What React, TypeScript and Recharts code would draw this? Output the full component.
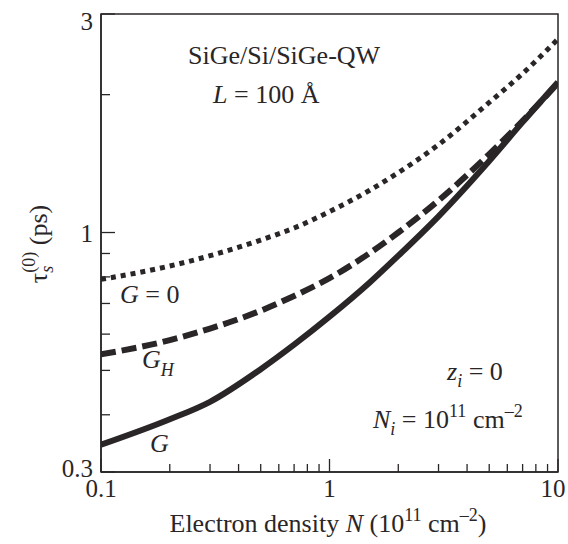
import { LineChart, Line, XAxis, YAxis, ReferenceArea, Customized } from 'recharts';

// electron density N (10^11 cm^-2) and spin relaxation time tau_s^(0) (ps)
const densities = [0.1, 0.2, 0.3, 0.5, 0.7, 1, 1.5, 2, 3, 5, 7, 10];
const tauG0 = [0.79, 0.845, 0.89, 0.963, 1.023, 1.111, 1.237, 1.351, 1.555, 1.923, 2.224, 2.645];
const tauGH = [0.542, 0.582, 0.617, 0.675, 0.727, 0.795, 0.902, 1.0, 1.175, 1.483, 1.754, 2.12];
const tauG = [0.344, 0.391, 0.427, 0.503, 0.569, 0.655, 0.778, 0.89, 1.085, 1.433, 1.742, 2.13];

const xTicks = [0.1, 0.2, 0.3, 0.4, 0.5, 0.6, 0.7, 0.8, 0.9, 1, 2, 3, 4, 5, 6, 7, 8, 9, 10];
const xLabels = [0.1, 1, 10];
const yTicks = [0.3, 0.4, 0.5, 0.6, 0.7, 0.8, 0.9, 1, 2, 3];
const yLabels = [0.3, 1, 3];

const INK = '#2a2627';
const FONT = '"Liberation Serif", "Times New Roman", serif';

const data = densities.map((n, i) => ({ n, g0: tauG0[i], gh: tauGH[i], g: tauG[i] }));

function XTick(props: any) {
  const { x, y, payload } = props;
  const v = payload.value;
  const major = xLabels.includes(v);
  return (
    <g>
      <line x1={x} y1={y} x2={x} y2={y - (major ? 13 : 8)} stroke={INK} strokeWidth={1.3} />
      {major && (
        <text x={v === 10 ? x - 5 : x} y={y + 25} textAnchor="middle" fontFamily={FONT} fontSize={25} fill={INK}>
          {v}
        </text>
      )}
    </g>
  );
}

function YTick(props: any) {
  const { x, y, payload } = props;
  const v = payload.value;
  const major = yLabels.includes(v);
  const shift = v === 3 ? 16 : v === 1 ? 9 : 5;
  return (
    <g>
      <line x1={x} y1={y} x2={x + (major ? 14 : 9)} y2={y} stroke={INK} strokeWidth={1.3} />
      {major && (
        <text x={x - 8} y={y + shift} textAnchor="end" fontFamily={FONT} fontSize={25} fill={INK}>
          {v}
        </text>
      )}
    </g>
  );
}

function Notes() {
  const t = { fontFamily: FONT, fontSize: 26, fill: INK };
  return (
    <g>
      <text x={180} y={56} {...t}>SiGe/Si/SiGe-QW</text>
      <text x={205} y={95} {...t}>
        <tspan fontStyle="italic">L</tspan> = 100 Å
      </text>
      <text x={112} y={295} {...t}>
        <tspan fontStyle="italic">G</tspan> = 0
      </text>
      <text x={134} y={360} {...t}>
        <tspan fontStyle="italic">G</tspan>
        <tspan fontStyle="italic" fontSize={18} dy={8}>H</tspan>
      </text>
      <text x={142} y={444} {...t}>
        <tspan fontStyle="italic">G</tspan>
      </text>
      <text x={439} y={372} {...t}>
        <tspan fontStyle="italic">z</tspan>
        <tspan fontStyle="italic" fontSize={18} dy={7}>i</tspan>
        <tspan dy={-7}> = 0</tspan>
      </text>
      <text x={365} y={420} {...t}>
        <tspan fontStyle="italic">N</tspan>
        <tspan fontStyle="italic" fontSize={18} dy={7}>i</tspan>
        <tspan dy={-7}> = 10</tspan>
        <tspan fontSize={18} dy={-11}>11</tspan>
        <tspan dy={11}> cm</tspan>
        <tspan fontSize={18} dy={-11}>–2</tspan>
      </text>
      <text x={320} y={524} textAnchor="middle" {...t}>
        Electron density <tspan fontStyle="italic">N</tspan> (10
        <tspan fontSize={18} dy={-11}>11</tspan>
        <tspan dy={11}> cm</tspan>
        <tspan fontSize={18} dy={-11}>–2</tspan>
        <tspan dy={11}>)</tspan>
      </text>
      <text x={39} y={236} textAnchor="middle" transform="rotate(-90 39 236)" {...t}>
        τ
        <tspan fontStyle="italic" fontSize={18} dy={6}>s</tspan>
        <tspan fontSize={18} dx={-7} dy={-18}>(0)</tspan>
        <tspan dy={12}> (ps)</tspan>
      </text>
    </g>
  );
}

export default function App() {
  return (
    <div style={{ position: 'absolute', top: 8, left: 8, width: 560, height: 536 }}>
      <LineChart width={560} height={536} data={data} margin={{ top: 6, right: 10, bottom: 0, left: 0 }}>
        <XAxis
          dataKey="n"
          type="number"
          scale="log"
          domain={[0.1, 10]}
          allowDataOverflow
          ticks={xTicks}
          interval={0}
          height={72}
          tickSize={0}
          tickMargin={0}
          tickLine={false}
          tick={<XTick />}
          axisLine={{ stroke: INK, strokeWidth: 1.5 }}
        />
        <YAxis
          type="number"
          scale="log"
          domain={[0.3, 3]}
          allowDataOverflow
          ticks={yTicks}
          interval={0}
          width={93}
          tickSize={0}
          tickMargin={0}
          tickLine={false}
          tick={<YTick />}
          axisLine={{ stroke: INK, strokeWidth: 1.5 }}
        />
        <ReferenceArea x1={0.1} x2={10} y1={0.3} y2={3} fill="none" stroke={INK} strokeWidth={1.5} />
        <Line dataKey="g0" type="monotone" stroke={INK} strokeWidth={5} strokeDasharray="5 5" dot={false} isAnimationActive={false} />
        <Line dataKey="gh" type="monotone" stroke={INK} strokeWidth={6} strokeDasharray="15 6" dot={false} isAnimationActive={false} />
        <Line dataKey="g" type="monotone" stroke={INK} strokeWidth={6} dot={false} isAnimationActive={false} />
        <Customized component={Notes} />
      </LineChart>
    </div>
  );
}
